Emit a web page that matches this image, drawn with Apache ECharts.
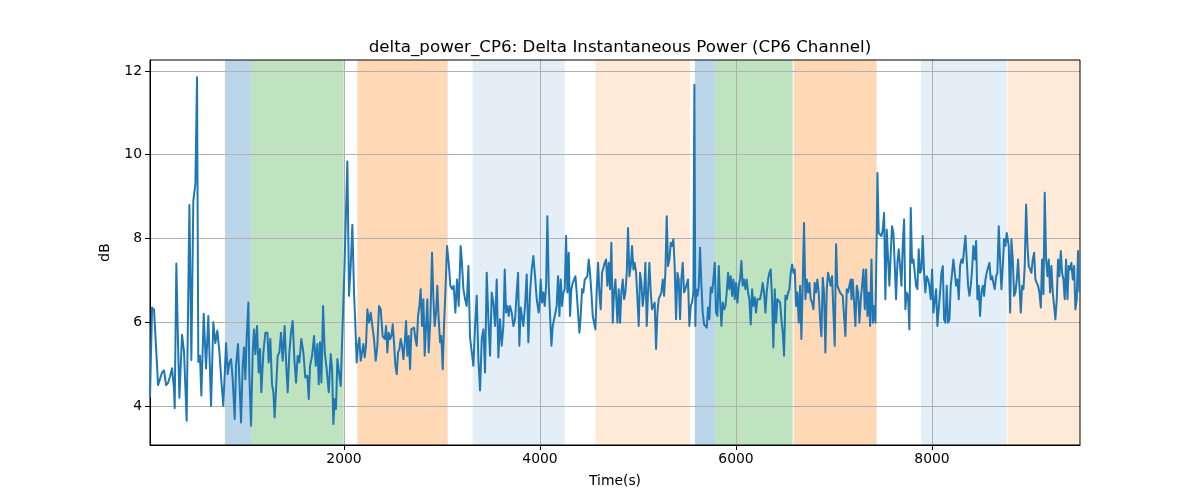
<!DOCTYPE html>
<html><head><meta charset="utf-8">
<script src="https://cdn.jsdelivr.net/npm/echarts@6/dist/echarts.min.js"></script>
<style>html,body{margin:0;padding:0;background:#fff}#c{width:1200px;height:500px}</style>
</head><body><div id="c"></div>
<script>
// [time (s), delta power (dB)]
const seg1 = [[20,4.2],[41,6.35],[61,6.3],[82,5.4],[102,4.5],[122,4.5],[143,4.8],[163,4.85],[184,4.5],[204,4.55],[224,4.7],[245,4.9],[265,4.4],[272,3.95],[289,7.4],[306,5.5],[320,4.2],[347,5.7],[367,5.3],[394,3.65],[422,8.8],[442,5.1],[462,8.9],[483,9.3],[500,11.85],[513,5.05],[530,5.2],[544,4.25],[568,6.2],[592,4.9],[615,6.15],[643,4.0],[666,6.0],[687,5.5],[707,5.8],[728,5.3],[748,4.6],[768,4.0],[796,5.5]];
const seg2 = [[813,4.76],[830,5.04],[847,5.12],[864,4.64],[884,3.69],[898,4.96],[918,5.48],[932,4.64],[949,3.61],[966,4.96],[980,5.40],[993,4.64],[1007,5.67],[1024,6.47],[1034,4.72],[1051,3.53],[1068,5.28],[1082,5.83],[1095,5.24],[1112,5.91],[1129,4.80],[1143,5.36],[1156,4.33],[1177,5.28],[1197,5.75],[1218,5.75],[1231,5.04],[1248,5.60],[1265,4.52],[1279,4.33],[1292,3.73],[1306,3.69],[1323,5.20],[1340,5.28],[1357,5.75],[1374,5.08],[1394,5.91],[1408,5.08],[1425,4.33],[1442,5.28],[1459,5.75],[1476,6.03],[1493,5.12],[1510,4.56],[1527,5.20],[1544,5.04],[1564,5.60],[1585,5.28],[1605,4.68]];
const seg3 = [[1626,4.72],[1640,4.17],[1653,4.96],[1674,5.20],[1694,5.67],[1711,4.96],[1728,5.48],[1742,4.52],[1755,5.52],[1769,4.56],[1786,6.39],[1803,5.28],[1823,4.88],[1844,4.33],[1864,5.24],[1878,4.88],[1891,3.57],[1905,4.17],[1918,3.93],[1932,5.12],[1949,4.80],[1966,4.48],[2007,7.50],[2020,7.50],[2034,9.84],[2051,6.63],[2068,7.34],[2085,8.33],[2102,6.71],[2116,5.91],[2129,5.04],[2143,5.44],[2156,5.63],[2170,5.08],[2184,5.28],[2197,5.48],[2211,5.16],[2224,5.44],[2238,6.31],[2255,5.99],[2272,6.23],[2289,5.91],[2306,5.60],[2323,5.08],[2340,5.44],[2357,6.39],[2374,6.31],[2394,5.67]];
const seg4 = [[2402,5.71],[2415,5.60],[2429,5.91],[2442,5.28],[2456,5.75],[2470,5.60],[2483,5.67],[2497,5.95],[2510,5.52],[2524,4.96],[2538,4.76],[2551,5.28],[2565,5.36],[2578,5.60],[2592,5.44],[2606,5.12],[2619,5.48],[2633,6.03],[2646,5.20],[2660,5.67],[2674,4.88],[2687,5.83],[2701,5.79],[2714,5.87],[2728,5.60],[2742,5.44],[2755,6.15],[2769,6.39],[2782,6.79],[2796,5.91],[2810,6.55],[2823,5.20],[2837,5.16],[2850,6.55],[2864,5.28],[2881,6.07],[2898,7.66],[2912,6.55],[2925,5.91],[2939,6.23],[2952,6.87],[2966,6.07],[2980,5.52],[2993,5.67],[3007,4.88],[3020,5.91],[3034,6.71],[3051,7.82],[3068,7.42],[3085,6.87],[3102,6.79],[3119,6.87],[3136,6.23],[3153,7.02],[3170,6.39],[3190,7.82]];
const seg5 = [[3201,7.50],[3218,6.79],[3235,6.55],[3252,6.39],[3269,7.34],[3286,5.63],[3303,5.60],[3320,4.96],[3337,5.91],[3354,6.63],[3371,5.12],[3388,4.37],[3405,5.60],[3422,5.83],[3439,4.80],[3456,7.18],[3473,6.07],[3490,5.20],[3507,6.71],[3524,6.47],[3541,5.91],[3558,7.02],[3575,5.16],[3592,6.07],[3609,5.44],[3626,5.91],[3640,7.26],[3653,6.23],[3667,6.39],[3680,6.15],[3694,6.39],[3711,6.23],[3728,5.91],[3745,6.07],[3762,6.71],[3776,7.18],[3789,5.44],[3803,6.35],[3816,6.39],[3830,5.91],[3847,6.39],[3864,7.14],[3881,5.52],[3898,6.71],[3915,7.26],[3932,7.58],[3949,7.10],[3966,6.55],[3986,6.23]];
const seg6 = [[3994,6.39],[4007,7.02],[4021,6.47],[4034,6.71],[4048,6.39],[4062,6.87],[4075,8.53],[4089,6.87],[4102,6.87],[4116,5.44],[4130,5.91],[4143,5.91],[4157,6.23],[4170,6.39],[4184,7.10],[4198,6.15],[4211,7.02],[4225,6.39],[4238,6.71],[4252,6.79],[4266,8.06],[4279,6.71],[4293,7.66],[4306,6.15],[4320,6.79],[4334,6.94],[4347,7.02],[4361,7.10],[4374,6.71],[4388,6.71],[4402,5.75],[4415,6.15],[4429,6.79],[4442,6.71],[4456,7.02],[4470,7.02],[4483,7.10],[4497,7.50],[4510,7.18],[4524,6.71],[4538,6.15],[4551,6.15],[4565,5.83],[4578,6.71],[4592,7.42],[4606,6.71],[4619,6.31],[4633,7.18],[4646,7.18],[4660,7.42],[4674,7.50],[4687,6.87],[4701,7.42],[4714,6.79],[4728,7.90],[4742,5.99],[4755,6.71],[4769,7.02],[4782,7.02]];
const seg7 = [[4790,5.99],[4803,6.79],[4817,5.99],[4830,6.71],[4844,7.02],[4858,6.55],[4871,6.71],[4885,7.18],[4898,8.25],[4912,7.10],[4926,7.34],[4939,7.82],[4953,7.26],[4966,7.42],[4980,7.18],[4994,6.55],[5007,5.91],[5021,7.18],[5034,6.94],[5048,6.39],[5062,6.71],[5075,7.42],[5089,5.91],[5102,6.71],[5116,7.42],[5130,6.71],[5143,6.31],[5157,6.31],[5170,6.47],[5184,5.36],[5198,6.23],[5211,6.55],[5225,6.59],[5238,6.71],[5252,7.02],[5266,6.63],[5279,7.18],[5293,8.53],[5306,7.34],[5320,7.50],[5334,7.90],[5347,7.82],[5361,7.98],[5374,7.34],[5388,6.07],[5402,7.18],[5415,7.02],[5429,6.07],[5442,7.02],[5456,7.42],[5470,6.71],[5483,6.79],[5497,6.83],[5510,7.02],[5524,5.91],[5538,6.39],[5551,6.47],[5565,6.71],[5575,11.67],[5585,5.91]];
const seg8 = [[5592,6.79],[5606,6.63],[5620,6.87],[5633,7.78],[5647,6.87],[5660,6.23],[5674,5.95],[5688,5.91],[5701,5.87],[5715,6.35],[5728,6.07],[5742,6.83],[5756,6.71],[5769,7.02],[5783,7.42],[5796,6.23],[5810,6.15],[5824,7.34],[5837,6.55],[5851,5.91],[5864,6.47],[5878,6.31],[5892,6.39],[5905,6.71],[5919,7.18],[5932,6.79],[5946,7.10],[5960,6.63],[5973,7.02],[5987,6.55],[6000,6.94],[6014,6.47],[6028,6.87],[6041,7.02],[6055,7.46],[6068,6.87],[6082,7.02],[6096,6.79],[6109,7.02],[6123,6.71],[6136,6.55],[6150,5.95],[6164,6.79],[6177,6.39],[6191,6.59],[6204,6.23],[6218,6.55],[6232,6.55],[6245,6.55],[6259,6.71],[6272,6.94],[6286,6.71],[6300,6.23],[6313,6.71],[6327,7.02],[6340,7.18],[6354,7.26],[6368,6.55],[6381,5.40]];
const seg9 = [[6395,6.79],[6409,5.99],[6422,6.55],[6436,6.55],[6450,6.47],[6463,6.07],[6477,5.75],[6490,5.20],[6504,6.63],[6518,6.55],[6531,6.71],[6545,6.79],[6558,7.18],[6572,7.38],[6586,7.18],[6599,7.26],[6613,6.39],[6626,6.71],[6640,5.99],[6654,6.87],[6667,5.60],[6681,6.94],[6694,8.37],[6708,6.55],[6722,7.02],[6735,6.71],[6749,6.94],[6762,6.55],[6776,6.47],[6790,6.31],[6803,6.94],[6817,6.71],[6830,7.02],[6844,6.71],[6858,6.07],[6871,5.67],[6885,7.06],[6898,6.71],[6912,5.28],[6926,6.79],[6939,7.18],[6953,7.02],[6966,6.87],[6980,7.10],[6994,6.23],[7007,5.44],[7021,7.86],[7034,6.87],[7048,6.79],[7062,6.71],[7075,6.71],[7089,6.63],[7102,6.15],[7116,5.67],[7130,6.79],[7143,6.71],[7157,6.71],[7170,7.02]];
const seg10 = [[7178,6.55],[7191,7.02],[7205,6.47],[7218,5.91],[7232,6.87],[7246,6.71],[7259,5.99],[7273,6.55],[7286,6.87],[7300,7.26],[7314,6.31],[7327,7.26],[7341,6.15],[7354,6.71],[7368,5.91],[7382,7.50],[7395,5.99],[7409,6.39],[7422,5.99],[7436,8.13],[7443,9.56],[7456,8.13],[7470,8.13],[7484,8.06],[7497,8.21],[7511,8.61],[7524,6.55],[7538,8.21],[7552,7.50],[7565,6.87],[7579,7.66],[7592,8.29],[7606,8.13],[7620,7.34],[7633,6.55],[7647,7.42],[7660,7.74],[7674,7.34],[7688,6.87],[7701,7.82],[7715,8.45],[7728,6.31],[7742,6.71],[7756,6.63],[7769,5.83],[7783,8.73],[7796,7.42],[7810,7.50],[7824,7.18],[7837,6.87],[7851,6.79],[7864,7.74],[7878,7.18],[7892,7.26],[7905,8.06],[7919,7.18],[7932,6.71],[7946,7.10],[7960,7.02],[7973,6.87]];
const seg11 = [[7987,6.55],[8001,7.26],[8014,6.23],[8028,6.23],[8042,6.79],[8055,5.91],[8069,5.91],[8082,6.71],[8096,7.18],[8110,7.34],[8123,6.07],[8137,5.99],[8150,6.87],[8164,5.99],[8178,6.07],[8191,6.87],[8205,7.18],[8218,7.50],[8232,7.50],[8246,6.87],[8259,7.02],[8273,6.55],[8286,7.34],[8300,7.50],[8314,7.42],[8327,7.74],[8341,8.06],[8354,7.50],[8368,6.87],[8382,6.63],[8395,6.87],[8409,7.26],[8422,7.82],[8436,7.50],[8450,7.94],[8463,6.55],[8477,6.87],[8490,6.15],[8504,6.71],[8518,6.87],[8531,6.63],[8545,7.02],[8558,7.18],[8572,7.18],[8586,7.42],[8599,7.02],[8613,7.10],[8626,6.94],[8640,6.79],[8654,7.10],[8667,7.18],[8681,8.29],[8694,7.50],[8708,6.79],[8722,7.34],[8735,7.98],[8749,7.82],[8762,8.13]];
const seg12 = [[8770,8.13],[8783,7.82],[8797,6.23],[8810,7.98],[8824,7.50],[8838,6.63],[8851,6.71],[8865,7.02],[8878,7.50],[8892,6.87],[8906,6.23],[8919,6.87],[8933,6.79],[8946,7.34],[8960,8.81],[8974,7.82],[8987,7.34],[9001,7.26],[9014,7.18],[9028,7.50],[9042,7.66],[9055,7.02],[9069,7.02],[9082,6.87],[9096,6.71],[9110,6.35],[9123,7.50],[9137,6.67],[9150,9.09],[9164,7.50],[9178,7.10],[9191,7.50],[9205,6.71],[9218,7.34],[9232,6.71],[9246,6.39],[9259,6.07],[9273,6.55],[9286,7.50],[9300,7.10],[9314,7.70],[9327,7.18],[9341,7.02],[9354,6.55],[9368,7.50],[9382,6.55],[9395,7.34],[9409,7.26],[9422,7.42],[9436,7.02],[9450,7.34],[9463,6.31],[9477,6.55],[9490,7.70],[9504,6.71]];

// shaded intervals (s) and their kind
const spanStart = [785, 1055, 2135, 3313, 4564, 5581, 5789, 6588, 7887, 8770];
const spanEnd   = [1055, 1996, 3058, 4252, 5530, 5789, 6578, 7435, 8762, 9510];
const spanKind  = ['blue','green','orange','lightblue','lightorange','blue','green','orange','lightblue','lightorange'];

const xTicks = [2000, 4000, 6000, 8000];
const yTicks = [4, 6, 8, 10, 12];
const titleText = 'delta_power_CP6: Delta Instantaneous Power (CP6 Channel)';

const kindColor = {
  blue: 'rgba(31,119,180,0.3)',
  green: 'rgba(44,160,44,0.3)',
  orange: 'rgba(255,127,14,0.3)',
  lightblue: 'rgba(31,119,180,0.12)',
  lightorange: 'rgba(255,127,14,0.16)'
};

const data = [].concat(seg1, seg2, seg3, seg4, seg5, seg6, seg7, seg8, seg9, seg10, seg11, seg12);
const areas = spanStart.map((s, i) => [
  { xAxis: s, itemStyle: { color: kindColor[spanKind[i]] } },
  { xAxis: spanEnd[i] }
]);

const font = 'DejaVu Sans';
const chart = echarts.init(document.getElementById('c'), null, { renderer: 'canvas' });
chart.setOption({
  animation: false,
  backgroundColor: '#ffffff',
  title: {
    text: titleText, left: 615, top: 34, textAlign: 'center',
    textStyle: { fontFamily: font, fontSize: 16.7, fontWeight: 'normal', color: '#000' }
  },
  grid: { left: 150, right: 120, top: 60, bottom: 55, show: true, borderColor: '#000', borderWidth: 1, z: 3 },
  xAxis: {
    type: 'value', min: 20, max: 9510, z: 2,
    name: 'Time(s)', nameLocation: 'middle', nameGap: 29,
    nameTextStyle: { fontFamily: font, fontSize: 13.9, color: '#000' },
    axisLine: { show: true, onZero: false, lineStyle: { color: '#000', width: 1 } },
    axisTick: { show: true, length: 5, customValues: xTicks, lineStyle: { color: '#000' } },
    axisLabel: { customValues: xTicks, formatter: v => String(v), color: '#000', fontFamily: font, fontSize: 13.9, margin: 7 },
    splitLine: { show: true, lineStyle: { color: '#b0b0b0', width: 1 } }
  },
  yAxis: {
    type: 'value', min: 3.07, max: 12.26, z: 2,
    name: 'dB', nameLocation: 'middle', nameGap: 38,
    nameTextStyle: { fontFamily: font, fontSize: 13.9, color: '#000' },
    axisLine: { show: true, onZero: false, lineStyle: { color: '#000', width: 1 } },
    axisTick: { show: true, length: 5, customValues: yTicks, lineStyle: { color: '#000' } },
    axisLabel: { customValues: yTicks, formatter: v => String(v), color: '#000', fontFamily: font, fontSize: 13.9, margin: 8 },
    splitLine: { show: true, lineStyle: { color: '#b0b0b0', width: 1 } }
  },
  series: [{
    type: 'line', data: data, symbol: 'none', showSymbol: false, z: 4,
    lineStyle: { color: '#1f77b4', width: 2, join: 'round' },
    markArea: { silent: true, z: 1, data: areas }
  }]
});
</script></body></html>
